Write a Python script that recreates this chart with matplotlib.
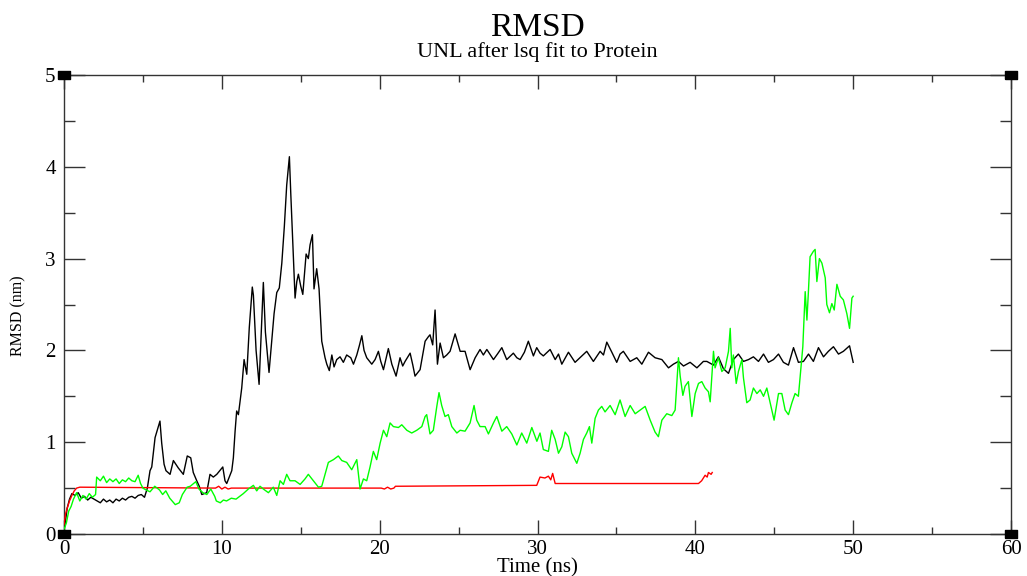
import matplotlib
matplotlib.use("Agg")
import matplotlib.pyplot as plt
from matplotlib.ticker import MultipleLocator

# ---------------- data (time in ns, RMSD in nm) ----------------
black_pts = [(0.0,0.05),(0.1,0.15),(0.2,0.28),(0.35,0.38),(0.5,0.44),(0.7,0.42),(0.9,0.45),(1.1,0.39),(1.3,0.41),(1.5,0.37),(1.7,0.40),(1.9,0.38),(2.1,0.36),(2.3,0.34),(2.5,0.38),(2.7,0.35),(2.9,0.37),(3.1,0.34),(3.3,0.38),(3.5,0.36),(3.7,0.39),(3.9,0.37),(4.1,0.40),(4.3,0.41),(4.5,0.39),(4.7,0.42),(4.9,0.43),(5.1,0.40),(5.28,0.50),(5.45,0.69),(5.56,0.73),(5.77,1.05),(6.08,1.23),(6.19,0.99),(6.34,0.76),(6.46,0.69),(6.72,0.65),(6.93,0.80),(7.24,0.72),(7.56,0.65),(7.81,0.85),(8.03,0.83),(8.19,0.67),(8.41,0.58),(8.57,0.52),(8.73,0.43),(9.04,0.45),(9.25,0.65),(9.46,0.62),(9.68,0.65),(10.06,0.73),(10.2,0.58),(10.31,0.55),(10.52,0.64),(10.63,0.69),(10.73,0.83),(10.84,1.12),(10.94,1.34),(11.05,1.30),(11.26,1.59),(11.41,1.90),(11.58,1.74),(11.74,2.25),(11.93,2.69),(12.0,2.60),(12.17,2.00),(12.36,1.63),(12.5,2.20),(12.63,2.74),(12.76,2.20),(12.99,1.76),(13.16,2.10),(13.31,2.40),(13.48,2.63),(13.64,2.68),(13.8,2.95),(13.96,3.35),(14.11,3.80),(14.28,4.11),(14.37,3.70),(14.49,3.20),(14.64,2.57),(14.75,2.75),(14.85,2.83),(15.0,2.70),(15.13,2.61),(15.34,3.05),(15.48,3.00),(15.59,3.15),(15.74,3.26),(15.84,2.67),(16.01,2.89),(16.16,2.67),(16.33,2.10),(16.54,1.92),(16.65,1.85),(16.81,1.78),(16.97,1.95),(17.11,1.82),(17.28,1.90),(17.49,1.93),(17.7,1.87),(17.91,1.95),(18.17,1.92),(18.34,1.85),(18.55,1.95),(18.71,2.05),(18.87,2.16),(19.01,2.00),(19.18,1.92),(19.5,1.85),(19.71,1.90),(19.92,1.99),(20.07,1.88),(20.24,1.79),(20.55,2.02),(20.77,1.85),(21.04,1.72),(21.29,1.92),(21.46,1.83),(21.61,1.88),(21.93,1.97),(22.1,1.84),(22.24,1.72),(22.56,1.79),(22.88,2.10),(23.09,2.15),(23.19,2.17),(23.36,2.06),(23.51,2.44),(23.66,1.85),(23.83,2.08),(24.04,1.92),(24.25,1.95),(24.46,1.99),(24.78,2.18),(25.1,1.99),(25.41,1.99),(25.73,1.79),(26.05,1.92),(26.36,2.01),(26.57,1.95),(26.79,2.01),(27.21,1.90),(27.46,1.96),(27.74,2.03),(28.05,1.90),(28.47,1.97),(28.69,1.92),(28.9,1.90),(29.17,1.98),(29.42,2.10),(29.74,1.94),(29.95,2.03),(30.16,1.97),(30.37,1.94),(30.8,2.01),(31.12,1.90),(31.33,1.96),(31.54,1.85),(31.96,1.98),(32.38,1.87),(32.81,1.94),(33.12,1.99),(33.54,1.88),(33.97,1.99),(34.18,1.95),(34.39,2.09),(34.71,1.98),(35.02,1.87),(35.23,1.96),(35.44,1.99),(35.87,1.88),(36.29,1.92),(36.61,1.85),(37.03,1.98),(37.45,1.92),(37.88,1.90),(38.3,1.81),(38.61,1.85),(38.93,1.88),(39.25,1.83),(39.67,1.87),(40.1,1.81),(40.51,1.88),(40.73,1.88),(41.15,1.84),(41.46,1.93),(41.78,1.80),(42.1,1.75),(42.41,1.90),(42.73,1.96),(43.05,1.88),(43.37,1.90),(43.68,1.93),(44.0,1.88),(44.32,1.96),(44.63,1.87),(44.95,1.90),(45.27,1.96),(45.58,1.87),(45.9,1.84),(46.22,2.03),(46.53,1.87),(46.85,1.88),(47.17,1.96),(47.48,1.88),(47.8,2.03),(48.12,1.93),(48.43,1.99),(48.75,2.04),(49.07,1.96),(49.38,1.99),(49.77,2.05),(50.0,1.87)]

green_pts = [(0.0,0.05),(0.15,0.12),(0.3,0.25),(0.45,0.30),(0.6,0.38),(0.8,0.45),(1.0,0.36),(1.2,0.42),(1.4,0.38),(1.6,0.44),(1.8,0.40),(2.0,0.43),(2.07,0.62),(2.3,0.58),(2.5,0.63),(2.7,0.56),(2.9,0.60),(3.1,0.57),(3.3,0.60),(3.5,0.55),(3.7,0.59),(3.9,0.57),(4.1,0.61),(4.3,0.58),(4.5,0.57),(4.7,0.64),(4.85,0.55),(5.0,0.50),(5.2,0.48),(5.45,0.46),(5.75,0.52),(5.9,0.50),(6.05,0.48),(6.25,0.43),(6.45,0.47),(6.7,0.39),(7.05,0.32),(7.3,0.34),(7.5,0.43),(7.8,0.51),(8.0,0.52),(8.35,0.57),(8.55,0.49),(8.8,0.45),(9.05,0.43),(9.3,0.49),(9.55,0.41),(9.65,0.36),(9.9,0.34),(10.1,0.37),(10.3,0.36),(10.6,0.39),(10.9,0.38),(11.36,0.44),(11.68,0.49),(12.0,0.53),(12.21,0.47),(12.42,0.52),(12.63,0.49),(12.95,0.45),(13.26,0.51),(13.48,0.42),(13.69,0.58),(13.9,0.54),(14.11,0.65),(14.32,0.58),(14.64,0.58),(14.96,0.54),(15.27,0.60),(15.48,0.65),(15.8,0.58),(16.12,0.51),(16.33,0.52),(16.54,0.65),(16.75,0.78),(17.07,0.81),(17.38,0.85),(17.6,0.80),(17.91,0.78),(18.23,0.70),(18.55,0.81),(18.76,0.49),(18.97,0.60),(19.18,0.58),(19.39,0.73),(19.6,0.90),(19.81,0.81),(20.03,0.99),(20.24,1.13),(20.45,1.06),(20.66,1.21),(20.87,1.17),(21.19,1.16),(21.4,1.19),(21.72,1.13),(22.03,1.10),(22.35,1.13),(22.67,1.17),(22.88,1.28),(22.98,1.30),(23.19,1.09),(23.4,1.13),(23.62,1.39),(23.76,1.54),(23.93,1.40),(24.14,1.28),(24.35,1.30),(24.57,1.17),(24.89,1.10),(25.1,1.13),(25.41,1.12),(25.73,1.21),(25.98,1.40),(26.15,1.24),(26.36,1.17),(26.68,1.17),(26.89,1.09),(27.21,1.21),(27.42,1.28),(27.74,1.12),(28.05,1.17),(28.37,1.09),(28.69,0.97),(29.0,1.10),(29.32,0.99),(29.64,1.16),(29.96,1.01),(30.16,1.10),(30.37,0.92),(30.69,0.90),(30.9,1.13),(31.12,1.03),(31.33,0.88),(31.54,0.95),(31.75,1.11),(31.96,1.06),(32.17,0.88),(32.49,0.77),(32.7,0.88),(32.91,1.03),(33.12,1.10),(33.29,1.17),(33.44,0.99),(33.65,1.26),(33.86,1.35),(34.07,1.39),(34.28,1.33),(34.6,1.40),(34.92,1.30),(35.23,1.46),(35.55,1.28),(35.87,1.40),(36.19,1.31),(36.5,1.35),(36.82,1.39),(37.14,1.24),(37.45,1.11),(37.66,1.06),(37.88,1.24),(38.19,1.31),(38.51,1.29),(38.72,1.35),(38.83,1.64),(38.93,1.92),(39.04,1.72),(39.21,1.51),(39.35,1.61),(39.56,1.66),(39.78,1.28),(39.99,1.53),(40.2,1.64),(40.41,1.66),(40.62,1.59),(40.83,1.55),(40.94,1.44),(41.15,1.99),(41.25,1.81),(41.46,1.92),(41.68,1.77),(41.89,1.81),(42.1,1.99),(42.21,2.24),(42.31,1.81),(42.41,1.95),(42.59,1.64),(42.73,1.77),(42.95,1.90),(43.05,1.70),(43.26,1.43),(43.47,1.46),(43.68,1.59),(43.9,1.53),(44.11,1.57),(44.32,1.50),(44.53,1.59),(44.74,1.43),(44.99,1.24),(45.27,1.53),(45.48,1.53),(45.69,1.35),(45.9,1.30),(46.12,1.43),(46.32,1.53),(46.53,1.50),(46.68,1.79),(46.81,2.04),(46.96,2.64),(47.07,2.33),(47.17,2.66),(47.27,3.02),(47.48,3.08),(47.59,3.10),(47.7,2.75),(47.86,3.00),(48.02,2.95),(48.23,2.79),(48.33,2.50),(48.5,2.41),(48.65,2.51),(48.8,2.44),(48.97,2.72),(49.18,2.59),(49.38,2.55),(49.6,2.40),(49.77,2.24),(49.92,2.57),(50.0,2.59)]

red_pts = [(0.0,0.10),(0.1,0.22),(0.2,0.28),(0.35,0.36),(0.5,0.42),(0.65,0.47),(0.8,0.50),(1.0,0.51),(9.6,0.50),(9.8,0.52),(10.0,0.49),(10.2,0.51),(10.4,0.49),(10.6,0.50),(20.1,0.50),(20.3,0.49),(20.5,0.51),(20.7,0.49),(20.9,0.50),(21.0,0.52),(29.95,0.53),(30.16,0.62),(30.47,0.61),(30.69,0.63),(30.84,0.59),(30.96,0.66),(31.12,0.55),(40.2,0.55),(40.4,0.58),(40.62,0.64),(40.75,0.62),(40.83,0.67),(41.0,0.65),(41.07,0.67)]

title = "RMSD"
subtitle = "UNL after lsq fit to Protein"
xlabel = "Time (ns)"
ylabel = "RMSD (nm)"
x_ticks = [0, 10, 20, 30, 40, 50, 60]
y_ticks = [0, 1, 2, 3, 4, 5]

black_t, black_v = zip(*black_pts)
green_t, green_v = zip(*green_pts)
red_t, red_v = zip(*red_pts)

# ---------------- figure ----------------
SERIF = ["Liberation Serif", "DejaVu Serif"]
plt.rcParams["font.family"] = SERIF

W, H = 1027, 576
fig = plt.figure(figsize=(W / 100, H / 100), dpi=100)
ax = fig.add_axes([64 / W, 1 - 534 / H, (1011 - 64) / W, (534 - 75) / H])

ax.plot(black_t, black_v, color="black", lw=1.0, zorder=3)
ax.plot(red_t, red_v, color="#ff0000", lw=1.0, zorder=3)
ax.plot(green_t, green_v, color="#00ff00", lw=1.0, zorder=3)

ax.set_xlim(0, 60)
ax.set_ylim(0, 5)
ax.set_xticks(x_ticks)
ax.set_yticks(y_ticks)
ax.xaxis.set_minor_locator(MultipleLocator(5))
ax.yaxis.set_minor_locator(MultipleLocator(0.5))

ax.tick_params(axis="both", which="both", direction="in", top=True, right=True,
               width=1.0, color="#333333")
ax.tick_params(axis="x", which="major", length=10, pad=4, labelsize=15)
ax.tick_params(axis="x", which="minor", length=5)
ax.tick_params(axis="y", which="major", length=15, pad=6, labelsize=15)
ax.tick_params(axis="y", which="minor", length=8)
for s in ax.spines.values():
    s.set_linewidth(1.0)
    s.set_color("#333333")

# corner markers (Grace style)
rect = [(-1.57, -1), (1.57, -1), (1.57, 1), (-1.57, 1), (-1.57, -1)]
ax.plot([0, 1, 0, 1], [0, 0, 1, 1], linestyle="none", marker=rect, markersize=8,
        color="black", transform=ax.transAxes, clip_on=False, zorder=5)

fig.text(537.5 / W, 1 - 36 / H, title, ha="center", va="baseline", fontsize=24)
fig.text(537.5 / W, 1 - 57 / H, subtitle, ha="center", va="baseline", fontsize=16)
fig.text(537.5 / W, 1 - 572 / H, xlabel, ha="center", va="baseline", fontsize=15)
fig.text(18 / W, 1 - 316 / H, ylabel, ha="center", va="center", rotation=90, fontsize=11.5)

fig.savefig("out.png", dpi=100)
